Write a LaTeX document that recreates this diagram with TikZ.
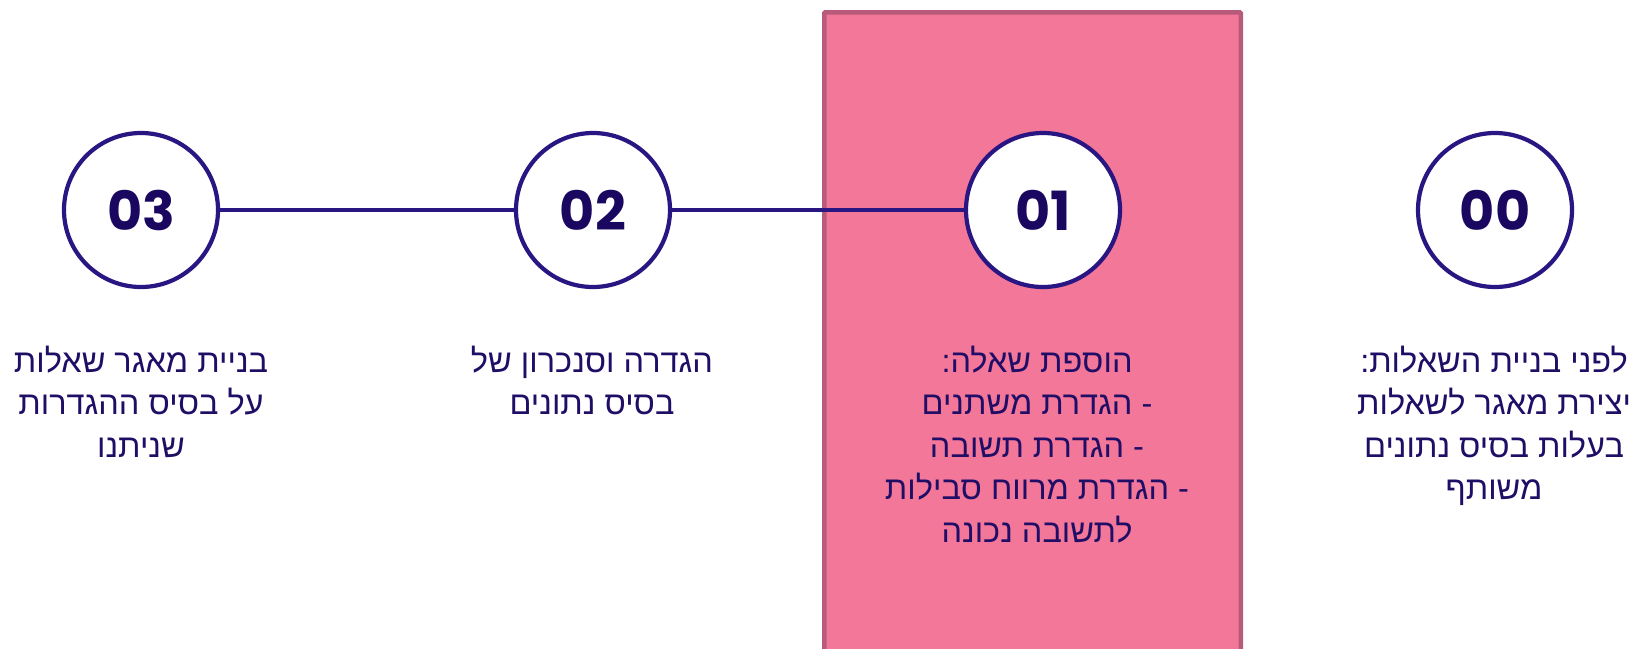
\documentclass[tikz,border=0pt]{standalone}
\usepackage{fontspec}
\TeXXeTstate=1
\newfontfamily\hebfont[Script=Hebrew]{Liberation Sans}
\newfontfamily\numfont{Poppins}
\definecolor{ink}{HTML}{2A1682}
\definecolor{numink}{HTML}{1A0860}
\definecolor{txtink}{HTML}{1F0D66}
\definecolor{pinkfill}{HTML}{F37799}
\definecolor{pinkedge}{HTML}{B85B7B}
\tikzset{
  highlight/.style={draw=pinkedge, fill=pinkfill, line width=4.5pt, rounded corners=1pt,
    inner sep=0pt, anchor=north west},
  stepcircle/.style={circle, draw=ink, fill=white, line width=4.2pt, minimum size=154pt,
    inner sep=0pt, text=numink, font=\numfont\bfseries\fontsize{54}{54}\selectfont},
  link/.style={draw=ink, line width=3.8pt},
  % anchored at the baseline of the last line; lines are 42.5pt apart
  steptext/.style={align=center, anchor=base, text=txtink, inner sep=0pt,
    font=\hebfont\fontsize{32.5}{42.5}\selectfont},
}
\begin{document}
\begin{tikzpicture}[x=1pt,y=-1pt]
\useasboundingbox (0,0) rectangle (1632,648);
\clip (0,0) rectangle (1632,648);
% highlighted current step
\node[highlight, minimum width=416.5pt, minimum height=680pt] (hl) at (822,10) {};
% step markers
\node[stepcircle] (s03) at (141,210) {03};
\node[stepcircle] (s02) at (593,210) {02};
\node[stepcircle] (s01) at (1043,210) {01};
\node[stepcircle] (s00) at (1495,210) {00};
\draw[link] (s03) -- (s02);
\draw[link] (s02) -- (s01);
% step descriptions (first baseline at 372)
\node[steptext] (t03) at (141,457) {\beginR בניית מאגר שאלות\endR\\\beginR על בסיס ההגדרות\endR\\\beginR שניתנו\endR};
\node[steptext] (t02) at (592,414.5) {\beginR הגדרה וסנכרון של\endR\\\beginR בסיס נתונים\endR};
\node[steptext] (t01) at (1037,542) {\beginR הוספת שאלה:\endR\\\beginR - הגדרת משתנים\endR\\\beginR - הגדרת תשובה\endR\\\beginR - הגדרת מרווח סבילות\endR\\\beginR לתשובה נכונה\endR};
\node[steptext] (t00) at (1494,499.5) {\beginR לפני בניית השאלות:\endR\\\beginR יצירת מאגר לשאלות\endR\\\beginR בעלות בסיס נתונים\endR\\\beginR משותף\endR};
\end{tikzpicture}
\end{document}
